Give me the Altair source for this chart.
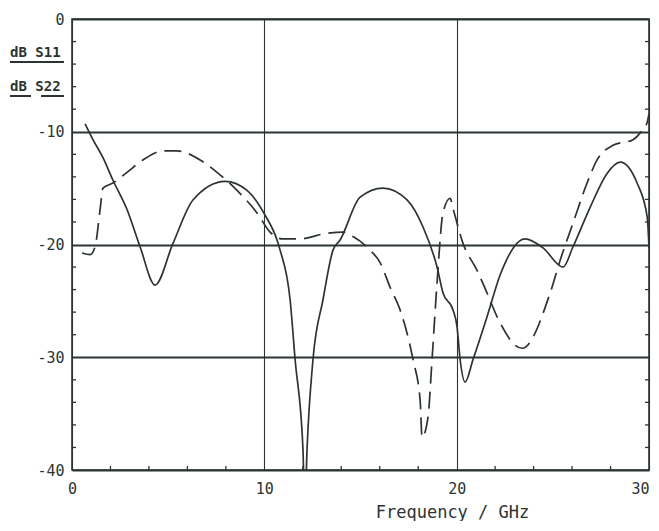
import altair as alt
import pandas as pd

# ---- data ----
s11_freq = [0.68, 1.09, 1.61, 2.13, 2.86, 3.54, 4.32, 5.25, 6.29, 7.96, 9.10, 10.04,
            10.66, 10.82, 11.34, 11.60, 12.01, 12.10, 12.22, 12.53, 13.05, 13.57, 13.94,
            14.98, 16.17, 17.42, 18.25, 18.98, 19.29, 19.81, 20.02, 20.18, 20.44, 20.85,
            21.58, 22.26, 23.56, 24.49, 25.53, 26.05, 26.94, 27.82, 28.50, 29.38, 29.91, 30.0]
s11_db = [-9.3, -10.7, -12.3, -14.3, -16.9, -20.2, -23.6, -19.9, -16.05, -14.4, -15.2, -17.4,
          -19.6, -20.5, -24.9, -30.2, -38.2, -44.0, -38.2, -30.2, -24.9, -20.5, -19.6,
          -15.8, -15.0, -16.05, -18.45, -22.0, -24.3, -25.8, -27.3, -30.2, -32.2, -30.2,
          -26.4, -22.7, -19.5, -20.3, -22.0, -20.2, -16.7, -13.7, -12.7, -14.55, -17.6, -20.3]

s22_freq = [0.52, 0.94, 1.20, 1.46, 1.61, 2.13, 2.86, 3.69, 4.73, 5.46, 6.66, 7.54, 8.58,
            9.62, 10.30, 10.92, 11.86, 13.26, 14.09, 14.61, 15.50, 16.02, 16.54, 17.06,
            17.73, 18.10, 18.20, 18.51, 18.72, 18.98, 19.29, 19.66, 19.81, 20.33, 21.06,
            21.58, 22.10, 23.40, 24.86, 25.38, 26.05, 26.78, 27.30, 28.13, 29.17, 29.54,
            29.90, 30.0]
s22_db = [-20.75, -20.9, -20.2, -16.9, -15.0, -14.55, -13.6, -12.5, -11.7, -11.7, -12.5,
          -13.6, -15.2, -17.2, -18.9, -19.5, -19.5, -19.0, -18.9, -19.3, -20.5, -21.6,
          -23.8, -25.8, -30.2, -33.8, -37.1, -35.3, -30.2, -23.4, -17.2, -15.9, -16.8,
          -19.9, -22.3, -24.3, -26.4, -29.2, -24.3, -21.4, -18.1, -14.55, -12.5, -11.2,
          -10.7, -10.1, -9.2, -8.4]

x_labels = [0, 10, 20, 30]
y_labels = [0, -10, -20, -30, -40]
x_minor = [2, 4, 6, 8, 12, 14, 16, 18, 22, 24, 26, 28]
y_minor = [-2, -4, -6, -8, -12, -14, -16, -18, -22, -24, -26, -28, -32, -34, -36, -38]

INK = "#2c3431"
FONT = "DejaVu Sans Mono"

xs = alt.Scale(domain=[0, 30], nice=False, zero=False)
ys = alt.Scale(domain=[-40, 0], nice=False, zero=False)

s11 = pd.DataFrame({"f": s11_freq, "db": s11_db})
s22 = pd.DataFrame({"f": s22_freq, "db": s22_db})

x_axis = alt.Axis(values=x_labels, grid=True, gridColor=INK, gridWidth=1.1, gridOpacity=1,
                  ticks=False, domain=False, labelFont=FONT, labelFontSize=15,
                  labelColor=INK, labelPadding=11, labelFlush=False,
                  labelAlign={"expr": "datum.value == 30 ? 'right' : 'center'"},
                  title="Frequency / GHz", titleFont=FONT, titleFontSize=17,
                  titleFontWeight="normal", titleColor=INK, titleX=380, titleY=42,
                  titleBaseline="middle", titleAlign="center")
y_axis = alt.Axis(values=y_labels, grid=True, gridColor=INK, gridWidth=1.8, gridOpacity=1,
                  ticks=False, domain=False, labelFont=FONT, labelFontSize=15,
                  labelColor=INK, labelPadding=8, labelFlush=False,
                  labelExpr="'' + datum.value", title=None)

X = alt.X("f:Q", scale=xs, axis=x_axis)
Y = alt.Y("db:Q", scale=ys, axis=y_axis)

line11 = alt.Chart(s11).mark_line(color=INK, strokeWidth=1.7, interpolate="monotone",
                                  clip=True).encode(x=X, y=Y)
line22 = alt.Chart(s22).mark_line(color=INK, strokeWidth=1.7, interpolate="monotone",
                                  strokeDash=[17, 8], clip=True).encode(x=X, y=Y)

ydf = pd.DataFrame({"db": y_minor})
xdf = pd.DataFrame({"f": x_minor})
tick_left = alt.Chart(ydf).mark_rule(color=INK, strokeWidth=1.3).encode(
    y=Y, x=alt.value(0), x2=alt.value(4))
tick_right = alt.Chart(ydf).mark_rule(color=INK, strokeWidth=1.3).encode(
    y=Y, x=alt.value(573), x2=alt.value(577))
tick_bottom = alt.Chart(xdf).mark_rule(color=INK, strokeWidth=1.3).encode(
    x=X, y=alt.value(447), y2=alt.value(451))

one = pd.DataFrame({"a": [0]})
leg1 = alt.Chart(one).mark_text(
    align="left", baseline="middle", font=FONT, fontSize=14, fontWeight="bold", color=INK,
    text="dB S11").encode(x=alt.value(-62), y=alt.value(34))
leg2 = alt.Chart(one).mark_text(
    align="left", baseline="middle", font=FONT, fontSize=14, fontWeight="bold", color=INK,
    text="dB S22").encode(x=alt.value(-62), y=alt.value(68))
u1 = alt.Chart(one).mark_rule(color=INK, strokeWidth=2).encode(
    x=alt.value(-62), x2=alt.value(-8), y=alt.value(43))
u2 = alt.Chart(one).mark_rule(color=INK, strokeWidth=2).encode(
    x=alt.value(-62), x2=alt.value(-41), y=alt.value(77))
u3 = alt.Chart(one).mark_rule(color=INK, strokeWidth=2).encode(
    x=alt.value(-31), x2=alt.value(-8), y=alt.value(77))

chart = alt.layer(line11, line22, tick_left, tick_right, tick_bottom,
                  leg1, leg2, u1, u2, u3).properties(
    width=577, height=451,
    padding={"left": 64, "top": 11, "right": 2, "bottom": 51},
    autosize=alt.AutoSizeParams(type="none"),
    background="white",
).configure_view(stroke=INK, strokeWidth=1.6)

chart.save("out.html", embed_options={"renderer": "svg", "actions": False})
